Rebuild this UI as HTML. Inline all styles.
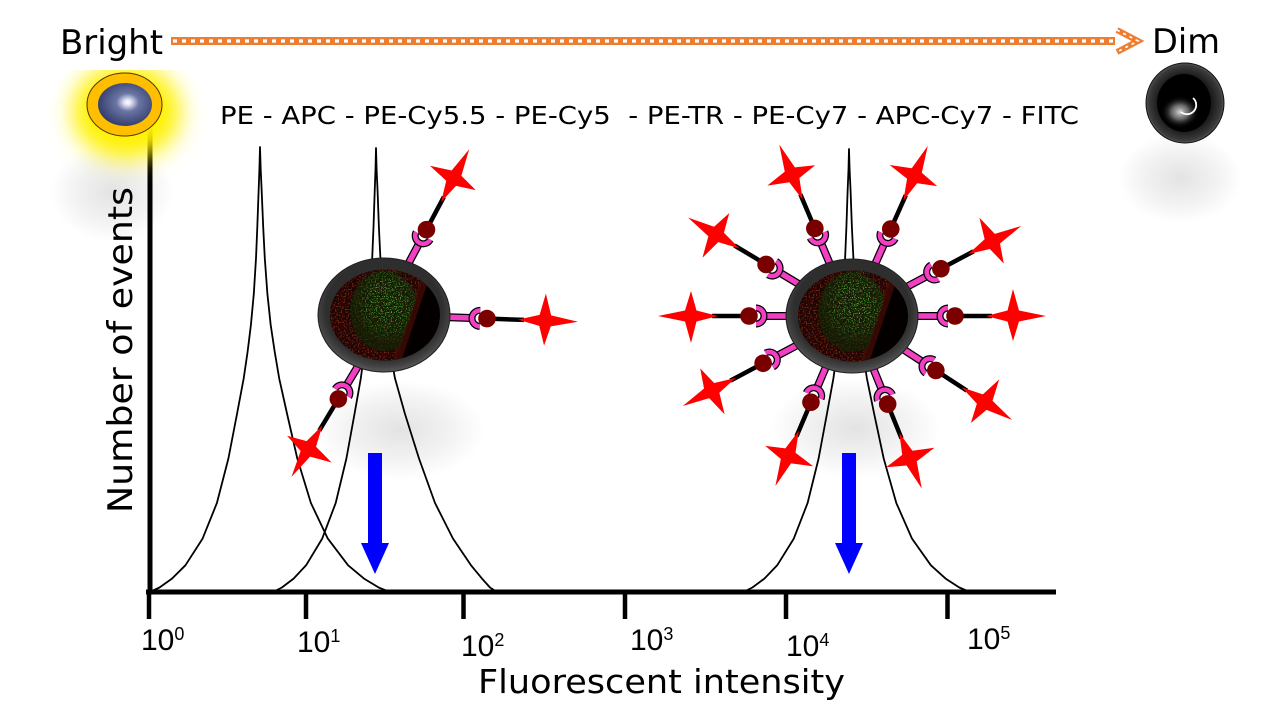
<!DOCTYPE html>
<html><head><meta charset="utf-8"><style>
html,body{margin:0;padding:0;background:#fff;}
svg{display:block;}
</style></head><body>
<svg width="1276" height="726" viewBox="0 0 1276 726" xmlns="http://www.w3.org/2000/svg">
<defs>
  <radialGradient id="shadow" cx="0.5" cy="0.5" r="0.5">
    <stop offset="0" stop-color="#000" stop-opacity="0.11"/>
    <stop offset="0.6" stop-color="#000" stop-opacity="0.05"/>
    <stop offset="1" stop-color="#000" stop-opacity="0"/>
  </radialGradient>
  <filter id="glowBlur" x="-60%" y="-60%" width="220%" height="220%">
    <feGaussianBlur stdDeviation="13"/>
  </filter>
  <clipPath id="glowClip"><rect x="30" y="70" width="200" height="140"/></clipPath>
  <radialGradient id="sphere" cx="0.55" cy="0.45" r="0.6">
    <stop offset="0" stop-color="#ffffff"/>
    <stop offset="0.1" stop-color="#e4e6f8"/>
    <stop offset="0.35" stop-color="#6a75a3"/>
    <stop offset="1" stop-color="#2e3868"/>
  </radialGradient>
  <radialGradient id="dimRing" cx="0.5" cy="0.5" r="0.5">
    <stop offset="0.7" stop-color="#1c1c1c"/>
    <stop offset="0.93" stop-color="#3a3a3a"/>
    <stop offset="1" stop-color="#555"/>
  </radialGradient>
  <radialGradient id="dimGlow" cx="0.5" cy="0.5" r="0.5">
    <stop offset="0" stop-color="#d8d8d8"/>
    <stop offset="0.45" stop-color="#888" stop-opacity="0.75"/>
    <stop offset="1" stop-color="#000" stop-opacity="0"/>
  </radialGradient>
  <radialGradient id="ringG" cx="0.5" cy="0.45" r="0.55">
    <stop offset="0.8" stop-color="#2e2e2e"/>
    <stop offset="0.92" stop-color="#444"/>
    <stop offset="1" stop-color="#5a5a5a"/>
  </radialGradient>
  <radialGradient id="greenMask" cx="0.55" cy="0.4" r="0.5">
    <stop offset="0" stop-color="#fff" stop-opacity="1"/>
    <stop offset="0.6" stop-color="#fff" stop-opacity="0.6"/>
    <stop offset="1" stop-color="#fff" stop-opacity="0"/>
  </radialGradient>
  <filter id="spk" x="0" y="0" width="1" height="1">
    <feTurbulence type="fractalNoise" baseFrequency="0.8" numOctaves="1" seed="4" result="n"/>
    <feColorMatrix in="n" type="matrix" values="0 0 0 0 0.08  0 0 0 0 0.62  0 0 0 0 0.06  0 8 0 0 -4.4" result="g"/>
    <feComposite in="g" in2="SourceGraphic" operator="in"/>
  </filter>
  <filter id="spkR" x="0" y="0" width="1" height="1">
    <feTurbulence type="fractalNoise" baseFrequency="0.7" numOctaves="1" seed="9" result="n"/>
    <feColorMatrix in="n" type="matrix" values="0 0 0 0 0.55  0 0 0 0 0.05  0 0 0 0 0.02  0 7 0 0 -3.6" result="g"/>
    <feComposite in="g" in2="SourceGraphic" operator="in"/>
  </filter>
  <clipPath id="innerClip"><ellipse cx="1" cy="0" rx="55" ry="45.5"/></clipPath>
  <clipPath id="leftClip"><path d="M-60,-50 L44,-50 L10,50 L-60,50Z"/></clipPath>

  <g id="cell">
    <ellipse cx="0" cy="0" rx="66" ry="57" fill="url(#ringG)" stroke="#1e1e1e" stroke-width="1"/>
    <ellipse cx="1" cy="0" rx="55" ry="45.5" fill="#040000"/>
    <g clip-path="url(#innerClip)">
      <path d="M-60,-50 L44,-50 L10,50 L-60,50Z" fill="#1e0402"/>
      <path d="M-60,-50 L44,-50 L10,50 L-60,50Z" fill="#fff" opacity="0.5" filter="url(#spkR)"/>
      <path d="M46,-52 L11,52" stroke="#4a0c06" stroke-width="8" opacity="0.7"/>
      <g clip-path="url(#leftClip)">
        <ellipse cx="0" cy="-4" rx="34" ry="40" fill="#0a2a05" opacity="0.6"/>
        <ellipse cx="0" cy="-4" rx="36" ry="42" fill="url(#greenMask)" filter="url(#spk)"/>
      </g>
    </g>
  </g>

  <g id="ab">
    <line x1="-12" y1="0" x2="21" y2="0" stroke="#000" stroke-width="8"/>
    <line x1="-12" y1="0" x2="21" y2="0" stroke="#F23FC4" stroke-width="5.5"/>
    <path d="M30,-8 A8 8 0 0 0 30,8" fill="none" stroke="#000" stroke-width="7"/>
    <path d="M30,-8 A8 8 0 0 0 30,8" fill="none" stroke="#F23FC4" stroke-width="4.5"/>
    <line x1="42" y1="0" x2="74" y2="0" stroke="#000" stroke-width="4.5"/>
    <circle cx="37" cy="0" r="8.8" fill="#7A0000"/>
    <path transform="translate(95,0)" d="M33,0 L6,-5.5 L0,-27 L-5.5,-5.5 L-27,0 L-5.5,5.5 L0,25 L6,5.5Z" fill="#FF0000"/>
  </g>
</defs>

<!-- soft shadows -->
<ellipse cx="112" cy="192" rx="62" ry="50" fill="url(#shadow)"/>
<ellipse cx="400" cy="430" rx="85" ry="50" fill="url(#shadow)"/>
<ellipse cx="855" cy="428" rx="85" ry="50" fill="url(#shadow)"/>
<ellipse cx="1180" cy="178" rx="62" ry="45" fill="url(#shadow)"/>

<!-- histogram curves -->
<g fill="none" stroke="#000" stroke-width="1.8" stroke-linejoin="round">
  <path d="M150,592 L159.5,587.5 L172,578.6 L185.4,565.3 L202.6,538.6 L216.9,503 L228.4,458.5 L237,414 L243.7,378.4 L247.6,351.7 L250.9,325 L253.8,293.9 L256,258.3 L257.3,227.1 L258.6,191.5 L259.4,169.3 L260,147 L260.7,169.3 L261.7,191.5 L263.2,227.1 L264.8,258.3 L267.4,293.9 L270.7,325 L274.7,351.7 L279.2,378.4 L287.1,414 L297.3,458.5 L310.9,503 L327.8,538.6 L348.1,565.3 L364,578.6 L378.7,587.5 L390,592"/>
  <path d="M273,592 L281.9,587.5 L293.6,578.6 L306.1,565.3 L322.2,538.6 L335.7,503 L346.4,458.5 L354.5,414 L360.8,378.4 L364.4,351.7 L367.5,325 L370.2,293.9 L372.2,258.3 L373.5,227.1 L374.7,191.5 L375.5,169.3 L376,148 L376.6,169.3 L377.6,191.5 L378.9,227.1 L380.4,258.3 L382.8,293.9 L386,325 L390,351.7 L395,378.4 L405,414 L419,458.5 L435,503 L453,538.6 L471,565.3 L482,578.6 L490,587.5 L497,592"/>
  <path d="M743.2,592 L752.4,587.5 L764.4,578.6 L777.2,565.3 L793.8,538.6 L807.6,503 L818.6,458.5 L826.9,414 L833.4,378.4 L837,351.7 L840.3,325 L843,293.9 L845.1,258.3 L846.4,227.1 L847.6,191.5 L848.5,169.3 L849,149 L849.6,169.3 L850.6,191.5 L851.9,227.1 L853.4,258.3 L855.8,293.9 L859,325 L862.7,351.7 L866.9,378.4 L874.2,414 L883.7,458.5 L896.3,503 L912,538.6 L930.9,565.3 L945.6,578.6 L959.3,587.5 L969.8,592"/>
</g>

<!-- axes -->
<g stroke="#000">
  <line x1="150" y1="128" x2="150" y2="594" stroke-width="5"/>
  <line x1="146" y1="592" x2="1056" y2="592" stroke-width="5"/>
  <g stroke-width="4.5">
    <line x1="149" y1="592" x2="149" y2="619"/>
    <line x1="306" y1="592" x2="306" y2="619"/>
    <line x1="463.5" y1="592" x2="463.5" y2="619"/>
    <line x1="625" y1="592" x2="625" y2="619"/>
    <line x1="786" y1="592" x2="786" y2="619"/>
    <line x1="947.5" y1="592" x2="947.5" y2="619"/>
  </g>
</g>

<!-- blue arrows -->
<g fill="#0000FF">
  <rect x="368" y="453" width="14" height="91"/>
  <polygon points="361,543 389,543 375,574"/>
  <rect x="842" y="453" width="14" height="91"/>
  <polygon points="835,543 863,543 849,574"/>
</g>

<!-- left cell antibodies -->
<use href="#ab" transform="translate(409.1,262.3) rotate(-62)"/>
<use href="#ab" transform="translate(450,317.3) rotate(2)"/>
<use href="#ab" transform="translate(357.4,367.2) rotate(121)"/>
<use href="#cell" transform="translate(384,315)"/>

<!-- right cell antibodies -->
<use href="#ab" transform="translate(829.3,262.5) rotate(-113)"/>
<use href="#ab" transform="translate(875.7,262.8) rotate(-66)"/>
<use href="#ab" transform="translate(797.8,283.5) rotate(-149)"/>
<use href="#ab" transform="translate(908.2,286.1) rotate(-28)"/>
<use href="#ab" transform="translate(786,316) rotate(180)"/>
<use href="#ab" transform="translate(918,316) rotate(0)"/>
<use href="#ab" transform="translate(795.8,345.9) rotate(152)"/>
<use href="#ab" transform="translate(904.8,350.3) rotate(33)"/>
<use href="#ab" transform="translate(825.4,368.2) rotate(113)"/>
<use href="#ab" transform="translate(873.8,369.8) rotate(68)"/>
<use href="#cell" transform="translate(852,316)"/>

<!-- Bright icon -->
<g clip-path="url(#glowClip)">
  <ellipse cx="127" cy="114" rx="52" ry="44" fill="#FFF200" filter="url(#glowBlur)"/>
  <ellipse cx="125" cy="106" rx="44" ry="38" fill="#FFF000" filter="url(#glowBlur)" opacity="0.8"/>
</g>
<ellipse cx="124.5" cy="104.5" rx="37.5" ry="31.5" fill="#FFBE00" stroke="#4a3a00" stroke-width="1"/>
<ellipse cx="125" cy="104.5" rx="27" ry="21.5" fill="url(#sphere)"/>

<!-- Dim icon -->
<ellipse cx="1185" cy="103" rx="39" ry="40" fill="url(#dimRing)" stroke="#111" stroke-width="1"/>
<ellipse cx="1184" cy="103" rx="27" ry="29" fill="#000"/>
<ellipse cx="1180" cy="112" rx="19" ry="16" fill="url(#dimGlow)"/>
<path d="M1193,98 A8 8 0 0 1 1181,112" fill="none" stroke="#fff" stroke-width="1.8"/>

<!-- top checker arrow -->
<rect x="171" y="37" width="944" height="8" fill="#ED7D31"/>
<line x1="173" y1="41" x2="1115" y2="41" stroke="#fff" stroke-width="3.2" stroke-dasharray="4 5"/>
<polyline points="1117,30 1138,41 1117,52" fill="none" stroke="#ED7D31" stroke-width="6"/>
<polyline points="1117,30 1138,41 1117,52" fill="none" stroke="#fff" stroke-width="1.8" stroke-dasharray="3 4"/>

<!-- text -->
<g fill="#000" font-family="'DejaVu Sans', 'Liberation Sans', sans-serif">
  <text x="60" y="54" font-size="34" textLength="103" lengthAdjust="spacingAndGlyphs">Bright</text>
  <text x="1152" y="53" font-size="34" textLength="68" lengthAdjust="spacingAndGlyphs">Dim</text>
  <text x="220" y="124" font-size="25" textLength="859" lengthAdjust="spacingAndGlyphs" xml:space="preserve">PE - APC - PE-Cy5.5 - PE-Cy5  - PE-TR - PE-Cy7 - APC-Cy7 - FITC</text>
  <text transform="translate(132,513) rotate(-90)" font-size="34" textLength="326" lengthAdjust="spacingAndGlyphs">Number of events</text>
  <text x="478" y="693" font-size="33" textLength="367" lengthAdjust="spacingAndGlyphs">Fluorescent intensity</text>
</g>
<g fill="#000" font-family="'Liberation Sans', sans-serif" font-size="30">
  <text x="141" y="650">10<tspan font-size="18" dy="-10">0</tspan></text>
  <text x="297" y="652">10<tspan font-size="18" dy="-10">1</tspan></text>
  <text x="461" y="656">10<tspan font-size="18" dy="-10">2</tspan></text>
  <text x="630" y="650">10<tspan font-size="18" dy="-10">3</tspan></text>
  <text x="786" y="656">10<tspan font-size="18" dy="-10">4</tspan></text>
  <text x="967" y="649">10<tspan font-size="18" dy="-10">5</tspan></text>
</g>
</svg>
</body></html>
